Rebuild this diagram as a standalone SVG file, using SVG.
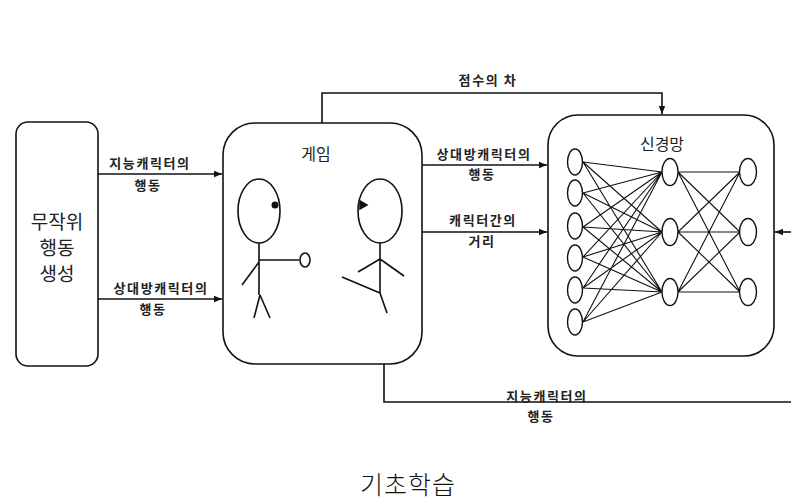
<svg xmlns="http://www.w3.org/2000/svg" width="791" height="500" viewBox="0 0 791 500">
  <style>
    .box { fill: #fff; stroke: #111; stroke-width: 1.6; }
    .ln { fill: none; stroke: #111; stroke-width: 1.6; }
    .thin { fill: none; stroke: #111; stroke-width: 1.1; }
    .neuron { fill: #fff; stroke: #111; stroke-width: 1.4; }
    .lbl { font-family: "Noto Sans CJK KR", sans-serif; font-size: 13px; font-weight: 700; fill: #222; text-anchor: middle; letter-spacing: 1.6px; }
    .title { font-family: "Noto Sans CJK KR", sans-serif; font-size: 16px; fill: #222; text-anchor: middle; }
    .big { font-family: "Noto Sans CJK KR", sans-serif; font-size: 19px; fill: #222; text-anchor: middle; }
    .cap { font-family: "Noto Sans CJK KR", sans-serif; font-size: 25px; font-weight: 300; fill: #111; text-anchor: middle; letter-spacing: 1px; }
  </style>
  <defs>
    <marker id="arr" viewBox="0 0 10 10" refX="10" refY="5" markerWidth="8" markerHeight="8" markerUnits="userSpaceOnUse" orient="auto">
      <path d="M0,1 L10,5 L0,9 Z" fill="#111"/>
    </marker>
  </defs>
  <rect width="791" height="500" fill="#fff"/>

  <!-- random action generator -->
  <g id="random-gen">
    <rect class="box" x="16" y="122" width="82" height="244" rx="12"/>
    <text class="big" x="57" y="229">무작위</text>
    <text class="big" x="57" y="255">행동</text>
    <text class="big" x="57" y="281">생성</text>
  </g>

  <!-- game box with two stick figures -->
  <g id="game">
    <rect class="box" x="223" y="123" width="199" height="241" rx="32"/>
    <text class="title" x="316" y="160">게임</text>
    <!-- left figure -->
    <ellipse class="ln" cx="259" cy="211" rx="21" ry="32"/>
    <circle cx="275" cy="205" r="3.5" fill="#111"/>
    <path class="ln" d="M259,243 V295 M259,260 H299 M259,262 L242,285 M260,295 L254,318 M260,295 L270,318"/>
    <ellipse class="ln" cx="305" cy="260" rx="5" ry="7"/>
    <!-- right figure -->
    <ellipse class="ln" cx="380" cy="211" rx="22" ry="32"/>
    <path d="M360,201 L367,205 L360,209 Z" fill="#111" stroke="#111" stroke-width="1.5"/>
    <path class="ln" d="M380,243 V293 L387,313 M380,259 L358,272 M380,259 L404,276 M380,293 L342,277"/>
  </g>

  <!-- neural network -->
  <g id="neural-net">
    <rect class="box" x="548" y="115" width="226" height="241" rx="30"/>
    <text class="title" x="662" y="150">신경망</text>
    <g class="thin">
      <path d="M583,162 L662,172 M583,162 L662,232 M583,162 L662,292
               M583,193 L662,172 M583,193 L662,232 M583,193 L662,292
               M583,227 L662,172 M583,227 L662,232 M583,227 L662,292
               M583,257 L662,172 M583,257 L662,232 M583,257 L662,292
               M583,288 L662,172 M583,288 L662,232 M583,288 L662,292
               M583,322 L662,172 M583,322 L662,232 M583,322 L662,292"/>
      <path d="M678,172 L740,172 M678,172 L740,232 M678,172 L740,292
               M678,232 L740,172 M678,232 L740,232 M678,232 L740,292
               M678,292 L740,172 M678,292 L740,232 M678,292 L740,292"/>
    </g>
    <ellipse class="neuron" cx="575" cy="162" rx="7.5" ry="13"/>
    <ellipse class="neuron" cx="575" cy="193" rx="7.5" ry="13"/>
    <ellipse class="neuron" cx="575" cy="226" rx="7.5" ry="13"/>
    <ellipse class="neuron" cx="575" cy="258" rx="7.5" ry="13"/>
    <ellipse class="neuron" cx="575" cy="290" rx="7.5" ry="13"/>
    <ellipse class="neuron" cx="575" cy="322" rx="7.5" ry="13"/>
    <ellipse class="neuron" cx="670" cy="172" rx="8" ry="13.5"/>
    <ellipse class="neuron" cx="670" cy="232" rx="8" ry="13.5"/>
    <ellipse class="neuron" cx="670" cy="292" rx="8" ry="13.5"/>
    <ellipse class="neuron" cx="748" cy="172" rx="8.5" ry="13.5"/>
    <ellipse class="neuron" cx="748" cy="232" rx="8.5" ry="13.5"/>
    <ellipse class="neuron" cx="748" cy="292" rx="8.5" ry="13.5"/>
  </g>

  <!-- connectors -->
  <g id="connectors">
    <path class="ln" d="M98,174 H222" marker-end="url(#arr)"/>
    <path class="ln" d="M98,299 H222" marker-end="url(#arr)"/>
    <path class="ln" d="M422,165 H547" marker-end="url(#arr)"/>
    <path class="ln" d="M422,232 H547" marker-end="url(#arr)"/>
    <path class="ln" d="M322,123 V93 H662 V114" marker-end="url(#arr)"/>
    <path class="ln" d="M791,232 H775" marker-end="url(#arr)"/>
    <path class="ln" d="M384,364 V402 H791"/>
  </g>

  <!-- connector labels -->
  <g id="labels">
    <text class="lbl" x="150" y="168">지능캐릭터의</text>
    <text class="lbl" x="148" y="190">행동</text>
    <text class="lbl" x="161" y="293">상대방캐릭터의</text>
    <text class="lbl" x="153" y="314">행동</text>
    <text class="lbl" x="488" y="85">점수의 차</text>
    <text class="lbl" x="484" y="159">상대방캐릭터의</text>
    <text class="lbl" x="482" y="179">행동</text>
    <text class="lbl" x="483" y="225">캐릭터간의</text>
    <text class="lbl" x="482" y="246">거리</text>
    <text class="lbl" x="547" y="401">지능캐릭터의</text>
    <text class="lbl" x="541" y="421">행동</text>
  </g>

  <text class="cap" x="408" y="494">기초학습</text>
</svg>
